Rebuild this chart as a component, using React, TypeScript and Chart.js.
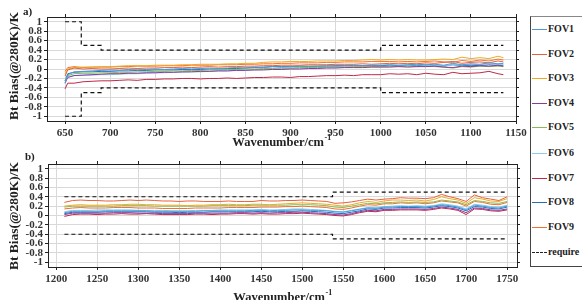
import React, { useEffect, useRef } from "react";
import { Chart, registerables } from "chart.js";
Chart.register(...registerables);

const FONT = "'Liberation Serif', 'Times New Roman', serif";

const fovNames = ["FOV1", "FOV2", "FOV3", "FOV4", "FOV5", "FOV6", "FOV7", "FOV8", "FOV9"];
const fovColors = ["#4a9ad6", "#e8603a", "#eeaa22", "#8b3a9b", "#88bb55", "#88ccee", "#c02848", "#1f6fbf", "#f07030"];
const requireLabel = "require";

const xTicksA = [650, 700, 750, 800, 850, 900, 950, 1000, 1050, 1100, 1150];
const xTicksB = [1200, 1250, 1300, 1350, 1400, 1450, 1500, 1550, 1600, 1650, 1700, 1750];
const yTicks = [-1, -0.8, -0.6, -0.4, -0.2, 0, 0.2, 0.4, 0.6, 0.8, 1];

// ---------- panel a) ----------
const wnA = [650, 653, 660, 670, 680, 690, 700, 710, 720, 730,
  740, 750, 760, 770, 780, 790, 800, 810, 820, 830,
  840, 850, 860, 870, 880, 890, 900, 910, 920, 930,
  940, 950, 960, 970, 980, 990, 1000, 1010, 1020, 1030,
  1040, 1050, 1060, 1070, 1080, 1090, 1100, 1110, 1120, 1130,
  1136];
const fov1A = [-0.30, -0.12, -0.06, -0.05, -0.04, -0.03, -0.02, -0.03, -0.01, -0.02,
  -0.01, 0.00, -0.01, 0.00, 0.01, 0.00, 0.01, 0.02, 0.01, 0.02,
  0.03, 0.02, 0.04, 0.03, 0.05, 0.04, 0.05, 0.06, 0.05, 0.06,
  0.07, 0.06, 0.07, 0.08, 0.07, 0.08, 0.08, 0.09, 0.08, 0.09,
  0.10, 0.09, 0.10, 0.08, 0.12, 0.09, 0.11, 0.10, 0.13, 0.11,
  0.12];
const fov2A = [-0.15, -0.02, 0.02, 0.00, 0.01, 0.00, 0.00, 0.01, 0.02, 0.01,
  0.02, 0.02, 0.03, 0.03, 0.04, 0.03, 0.04, 0.05, 0.04, 0.05,
  0.05, 0.06, 0.06, 0.07, 0.07, 0.08, 0.08, 0.08, 0.09, 0.09,
  0.09, 0.10, 0.10, 0.10, 0.11, 0.10, 0.11, 0.12, 0.11, 0.12,
  0.11, 0.13, 0.12, 0.14, 0.16, 0.12, 0.14, 0.15, 0.13, 0.17,
  0.15];
const fov3A = [-0.10, 0.00, 0.03, 0.04, 0.04, 0.05, 0.05, 0.06, 0.07, 0.07,
  0.07, 0.08, 0.08, 0.08, 0.09, 0.09, 0.10, 0.10, 0.10, 0.11,
  0.11, 0.12, 0.12, 0.14, 0.15, 0.15, 0.16, 0.16, 0.16, 0.17,
  0.17, 0.17, 0.18, 0.18, 0.19, 0.20, 0.19, 0.20, 0.19, 0.20,
  0.19, 0.19, 0.20, 0.21, 0.20, 0.25, 0.22, 0.24, 0.22, 0.27,
  0.24];
const fov4A = [-0.30, -0.18, -0.14, -0.13, -0.12, -0.11, -0.10, -0.10, -0.09, -0.09,
  -0.08, -0.08, -0.07, -0.07, -0.06, -0.06, -0.05, -0.05, -0.04, -0.04,
  -0.03, -0.03, -0.02, -0.02, -0.01, -0.01, 0.00, 0.00, 0.01, 0.01,
  0.02, 0.02, 0.03, 0.03, 0.03, 0.04, 0.04, 0.04, 0.05, 0.04,
  0.05, 0.05, 0.06, 0.04, 0.03, 0.06, 0.05, 0.07, 0.06, 0.08,
  0.06];
const fov5A = [-0.25, -0.14, -0.10, -0.09, -0.09, -0.08, -0.08, -0.07, -0.07, -0.06,
  -0.06, -0.05, -0.05, -0.04, -0.04, -0.03, -0.03, -0.02, -0.02, -0.01,
  -0.01, 0.00, 0.00, 0.01, 0.01, 0.02, 0.02, 0.03, 0.03, 0.03,
  0.04, 0.04, 0.04, 0.05, 0.05, 0.05, 0.05, 0.06, 0.05, 0.06,
  0.05, 0.06, 0.05, 0.04, 0.02, 0.05, 0.04, 0.06, 0.05, 0.06,
  0.05];
const fov6A = [-0.20, -0.16, -0.14, -0.13, -0.13, -0.12, -0.12, -0.11, -0.10, -0.10,
  -0.09, -0.08, -0.08, -0.07, -0.07, -0.06, -0.06, -0.05, -0.04, -0.04,
  -0.03, -0.02, -0.02, -0.01, 0.00, 0.01, 0.02, 0.02, 0.03, 0.03,
  0.04, 0.04, 0.04, 0.05, 0.05, 0.05, 0.05, 0.06, 0.06, 0.07,
  0.06, 0.07, 0.08, 0.06, 0.09, 0.08, 0.10, 0.09, 0.11, 0.10,
  0.10];
const fov7A = [-0.42, -0.30, -0.30, -0.27, -0.26, -0.25, -0.25, -0.24, -0.23, -0.24,
  -0.22, -0.22, -0.21, -0.21, -0.20, -0.20, -0.21, -0.20, -0.20, -0.19,
  -0.20, -0.19, -0.18, -0.18, -0.17, -0.17, -0.18, -0.16, -0.16, -0.15,
  -0.14, -0.14, -0.13, -0.14, -0.12, -0.12, -0.12, -0.10, -0.11, -0.10,
  -0.12, -0.09, -0.11, -0.12, -0.07, -0.10, -0.09, -0.08, -0.05, -0.10,
  -0.12];
const fov8A = [-0.25, -0.10, -0.07, -0.06, -0.06, -0.05, -0.05, -0.04, -0.04, -0.03,
  -0.03, -0.02, -0.02, -0.02, -0.01, -0.01, -0.01, 0.00, 0.00, 0.01,
  0.01, 0.02, 0.03, 0.04, 0.05, 0.05, 0.05, 0.06, 0.06, 0.06,
  0.06, 0.07, 0.07, 0.07, 0.07, 0.07, 0.07, 0.08, 0.07, 0.08,
  0.07, 0.08, 0.07, 0.06, 0.09, 0.07, 0.08, 0.07, 0.09, 0.08,
  0.08];
const fov9A = [-0.05, 0.03, 0.05, 0.03, 0.04, 0.04, 0.04, 0.05, 0.05, 0.06,
  0.06, 0.06, 0.07, 0.07, 0.07, 0.08, 0.08, 0.08, 0.09, 0.09,
  0.09, 0.10, 0.10, 0.11, 0.11, 0.12, 0.12, 0.13, 0.13, 0.13,
  0.14, 0.14, 0.15, 0.15, 0.15, 0.16, 0.16, 0.16, 0.15, 0.16,
  0.15, 0.16, 0.17, 0.15, 0.14, 0.18, 0.16, 0.19, 0.17, 0.21,
  0.19];
const reqAx = [650, 668, 668, 690, 690, 1000, 1000, 1136];
const reqAUp = [1, 1, 0.5, 0.5, 0.4, 0.4, 0.5, 0.5];
const reqALo = [-1, -1, -0.5, -0.5, -0.4, -0.4, -0.5, -0.5];

// ---------- panel b) ----------
const wnB = [1210, 1220, 1230, 1240, 1250, 1260, 1270, 1280, 1290, 1300,
  1310, 1320, 1330, 1340, 1350, 1360, 1370, 1380, 1390, 1400,
  1410, 1420, 1430, 1440, 1450, 1460, 1470, 1480, 1490, 1500,
  1510, 1520, 1530, 1540, 1550, 1560, 1570, 1580, 1590, 1600,
  1610, 1620, 1630, 1640, 1650, 1660, 1670, 1680, 1690, 1700,
  1710, 1720, 1730, 1740, 1750];
const fov1B = [0.06, 0.09, 0.09, 0.09, 0.09, 0.10, 0.10, 0.10, 0.10, 0.10,
  0.10, 0.09, 0.09, 0.09, 0.09, 0.09, 0.09, 0.10, 0.10, 0.10,
  0.10, 0.10, 0.10, 0.11, 0.11, 0.10, 0.11, 0.11, 0.12, 0.12,
  0.11, 0.11, 0.10, 0.08, 0.07, 0.10, 0.13, 0.16, 0.15, 0.18,
  0.18, 0.19, 0.19, 0.19, 0.18, 0.20, 0.23, 0.21, 0.18, 0.12,
  0.22, 0.20, 0.17, 0.16, 0.20];
const fov2B = [0.28, 0.32, 0.33, 0.32, 0.32, 0.31, 0.31, 0.32, 0.33, 0.32,
  0.33, 0.32, 0.31, 0.31, 0.30, 0.31, 0.31, 0.30, 0.30, 0.30,
  0.31, 0.30, 0.30, 0.30, 0.32, 0.31, 0.31, 0.32, 0.32, 0.33,
  0.32, 0.31, 0.30, 0.26, 0.27, 0.29, 0.32, 0.35, 0.33, 0.35,
  0.36, 0.38, 0.37, 0.37, 0.36, 0.38, 0.45, 0.40, 0.36, 0.30,
  0.44, 0.38, 0.35, 0.32, 0.40];
const fov3B = [0.20, 0.22, 0.23, 0.22, 0.22, 0.22, 0.23, 0.23, 0.24, 0.24,
  0.23, 0.23, 0.22, 0.22, 0.22, 0.21, 0.22, 0.22, 0.23, 0.23,
  0.24, 0.23, 0.23, 0.24, 0.24, 0.23, 0.24, 0.25, 0.26, 0.27,
  0.26, 0.25, 0.24, 0.22, 0.20, 0.23, 0.27, 0.30, 0.28, 0.31,
  0.33, 0.33, 0.32, 0.33, 0.31, 0.34, 0.40, 0.36, 0.33, 0.26,
  0.38, 0.35, 0.31, 0.30, 0.36];
const fov4B = [0.02, 0.05, 0.05, 0.05, 0.05, 0.05, 0.06, 0.06, 0.06, 0.05,
  0.05, 0.05, 0.04, 0.04, 0.04, 0.04, 0.05, 0.05, 0.05, 0.05,
  0.05, 0.06, 0.06, 0.05, 0.06, 0.05, 0.06, 0.06, 0.07, 0.07,
  0.06, 0.05, 0.04, 0.02, 0.01, 0.04, 0.08, 0.11, 0.10, 0.13,
  0.13, 0.14, 0.14, 0.14, 0.13, 0.15, 0.18, 0.16, 0.13, 0.06,
  0.16, 0.15, 0.12, 0.11, 0.14];
const fov5B = [0.18, 0.20, 0.20, 0.20, 0.20, 0.20, 0.20, 0.21, 0.21, 0.21,
  0.21, 0.20, 0.20, 0.20, 0.20, 0.20, 0.20, 0.20, 0.21, 0.21,
  0.21, 0.21, 0.21, 0.22, 0.22, 0.22, 0.22, 0.22, 0.23, 0.23,
  0.23, 0.22, 0.21, 0.18, 0.17, 0.20, 0.23, 0.26, 0.25, 0.27,
  0.28, 0.29, 0.28, 0.29, 0.28, 0.29, 0.33, 0.31, 0.29, 0.23,
  0.32, 0.30, 0.27, 0.26, 0.30];
const fov6B = [0.08, 0.11, 0.11, 0.11, 0.12, 0.12, 0.12, 0.12, 0.12, 0.11,
  0.11, 0.11, 0.11, 0.10, 0.10, 0.10, 0.11, 0.11, 0.11, 0.12,
  0.12, 0.12, 0.12, 0.12, 0.13, 0.12, 0.12, 0.13, 0.14, 0.14,
  0.13, 0.12, 0.11, 0.09, 0.08, 0.11, 0.14, 0.17, 0.17, 0.19,
  0.20, 0.21, 0.20, 0.21, 0.20, 0.21, 0.25, 0.23, 0.20, 0.14,
  0.24, 0.22, 0.19, 0.18, 0.22];
const fov7B = [-0.02, 0.02, 0.03, 0.03, 0.02, 0.03, 0.03, 0.04, 0.03, 0.03,
  0.04, 0.03, 0.02, 0.02, 0.02, 0.02, 0.03, 0.03, 0.02, 0.03,
  0.03, 0.04, 0.04, 0.03, 0.04, 0.03, 0.03, 0.04, 0.04, 0.05,
  0.04, 0.03, 0.02, 0.00, -0.01, 0.02, 0.06, 0.09, 0.08, 0.11,
  0.11, 0.12, 0.12, 0.12, 0.11, 0.13, 0.16, 0.14, 0.11, 0.02,
  0.14, 0.13, 0.10, 0.09, 0.12];
const fov8B = [0.04, 0.07, 0.07, 0.07, 0.07, 0.08, 0.08, 0.08, 0.08, 0.08,
  0.08, 0.07, 0.07, 0.07, 0.06, 0.07, 0.07, 0.07, 0.08, 0.08,
  0.08, 0.08, 0.08, 0.08, 0.09, 0.08, 0.08, 0.09, 0.09, 0.10,
  0.09, 0.08, 0.07, 0.05, 0.04, 0.07, 0.10, 0.14, 0.13, 0.16,
  0.16, 0.17, 0.17, 0.17, 0.16, 0.18, 0.21, 0.19, 0.16, 0.10,
  0.19, 0.18, 0.15, 0.14, 0.18];
const fov9B = [0.14, 0.16, 0.17, 0.16, 0.16, 0.16, 0.17, 0.17, 0.17, 0.16,
  0.16, 0.16, 0.15, 0.15, 0.15, 0.15, 0.16, 0.16, 0.16, 0.16,
  0.17, 0.17, 0.17, 0.17, 0.18, 0.18, 0.18, 0.19, 0.19, 0.20,
  0.19, 0.18, 0.17, 0.14, 0.13, 0.16, 0.20, 0.23, 0.22, 0.25,
  0.25, 0.27, 0.26, 0.27, 0.25, 0.27, 0.31, 0.29, 0.27, 0.20,
  0.30, 0.28, 0.24, 0.23, 0.28];
const reqBx = [1210, 1537, 1537, 1750];
const reqBUp = [0.4, 0.4, 0.5, 0.5];
const reqBLo = [-0.4, -0.4, -0.5, -0.5];

const seriesA = [fov1A, fov2A, fov3A, fov4A, fov5A, fov6A, fov7A, fov8A, fov9A];
const seriesB = [fov1B, fov2B, fov3B, fov4B, fov5B, fov6B, fov7B, fov8B, fov9B];

const W = 530;
const H = 150;

type PanelCfg = {
  xs: number[];
  series: number[][];
  reqX: number[];
  reqUp: number[];
  reqLo: number[];
  xmin: number;
  xmax: number;
  xticks: number[];
  area: { left: number; right: number; top: number; bottom: number };
  label: string;
  labelX: number;
  labelY: number;
  yTitleY: number;
  xTitleBase: number;
};

function pts(xs: number[], ys: number[]) {
  return xs.map((x, i) => ({ x, y: ys[i] }));
}

function buildChart(canvas: HTMLCanvasElement, p: PanelCfg) {
  const datasets: any[] = p.series.map((s, i) => ({
    label: fovNames[i],
    data: pts(p.xs, s),
    borderColor: fovColors[i],
    borderWidth: 1,
    pointRadius: 0,
    tension: 0,
    fill: false,
  }));
  [p.reqUp, p.reqLo].forEach((r) =>
    datasets.push({
      label: requireLabel,
      data: pts(p.reqX, r),
      borderColor: "#111",
      borderWidth: 1.2,
      borderDash: [4, 3],
      pointRadius: 0,
      tension: 0,
      fill: false,
    })
  );
  const gridCommon = {
    color: "#d9d9d9",
    lineWidth: 1,
    tickColor: "#222",
    tickLength: 3,
  };
  const tickFont = { family: FONT, size: 11, weight: "bold" as const };
  const setTicks = (vals: number[]) => (s: any) => {
    s.ticks = vals.map((v) => ({ value: v }));
  };
  const textPlugin = {
    id: "panelTexts",
    afterDraw(chart: any) {
      const ctx = chart.ctx as CanvasRenderingContext2D;
      const a = chart.chartArea;
      ctx.save();
      ctx.fillStyle = "#222";
      // y title
      ctx.save();
      ctx.font = `bold 13.5px ${FONT}`;
      ctx.textAlign = "center";
      ctx.textBaseline = "middle";
      ctx.translate(15, p.yTitleY);
      ctx.rotate(-Math.PI / 2);
      ctx.fillText("Bt Bias(@280K)/K", 0, 0);
      ctx.restore();
      // x title with superscript
      const main = "Wavenumber/cm";
      const sup = "-1";
      ctx.font = `bold 12.5px ${FONT}`;
      const w1 = ctx.measureText(main).width;
      ctx.font = `bold 8px ${FONT}`;
      const w2 = ctx.measureText(sup).width;
      const x0 = (a.left + a.right) / 2 - (w1 + w2) / 2;
      ctx.textAlign = "left";
      ctx.textBaseline = "alphabetic";
      ctx.font = `bold 12.5px ${FONT}`;
      ctx.fillText(main, x0, p.xTitleBase);
      ctx.font = `bold 8px ${FONT}`;
      ctx.fillText(sup, x0 + w1 + 0.5, p.xTitleBase - 6);
      // panel label
      ctx.font = `bold 11px ${FONT}`;
      ctx.textBaseline = "middle";
      ctx.fillText(p.label, p.labelX, p.labelY);
      ctx.restore();
    },
  };
  return new Chart(canvas, {
    type: "line",
    data: { datasets },
    plugins: [textPlugin],
    options: {
      responsive: false,
      animation: false,
      events: [],
      layout: { padding: 0, autoPadding: false } as any,
      plugins: { legend: { display: false }, tooltip: { enabled: false } },
      scales: {
        x: {
          type: "linear",
          position: "bottom",
          min: p.xmin,
          max: p.xmax,
          afterBuildTicks: setTicks(p.xticks),
          afterFit: (s: any) => {
            s.height = H - p.area.bottom;
          },
          ticks: {
            font: tickFont,
            color: "#333",
            padding: 3,
            maxRotation: 0,
            autoSkip: false,
            callback: (v: any) => String(v),
          },
          grid: { ...gridCommon, drawOnChartArea: true },
          border: { display: true, color: "#222", width: 1 },
        },
        x2: {
          type: "linear",
          position: "top",
          min: p.xmin,
          max: p.xmax,
          afterBuildTicks: setTicks(p.xticks),
          afterFit: (s: any) => {
            s.height = p.area.top;
          },
          ticks: { display: false },
          grid: { ...gridCommon, drawOnChartArea: false },
          border: { display: true, color: "#222", width: 1 },
        },
        y: {
          type: "linear",
          position: "left",
          min: -1.1,
          max: 1.1,
          afterBuildTicks: setTicks(yTicks),
          afterFit: (s: any) => {
            s.width = p.area.left;
          },
          ticks: {
            font: tickFont,
            color: "#333",
            padding: 2,
            autoSkip: false,
            callback: (v: any) => String(Number(Number(v).toFixed(1))),
          },
          grid: { ...gridCommon, drawOnChartArea: true },
          border: { display: true, color: "#222", width: 1 },
        },
        y2: {
          type: "linear",
          position: "right",
          min: -1.1,
          max: 1.1,
          afterBuildTicks: setTicks(yTicks),
          afterFit: (s: any) => {
            s.width = W - p.area.right;
          },
          ticks: { display: false },
          grid: { ...gridCommon, drawOnChartArea: false },
          border: { display: true, color: "#222", width: 1 },
        },
      },
    } as any,
  });
}

const panelA: PanelCfg = {
  xs: wnA,
  series: seriesA,
  reqX: reqAx,
  reqUp: reqAUp,
  reqLo: reqALo,
  xmin: 630,
  xmax: 1150,
  xticks: xTicksA,
  area: { left: 47, right: 516, top: 17, bottom: 121 },
  label: "a)",
  labelX: 23,
  labelY: 12,
  yTitleY: 66,
  xTitleBase: 146,
};

const panelB: PanelCfg = {
  xs: wnB,
  series: seriesB,
  reqX: reqBx,
  reqUp: reqBUp,
  reqLo: reqBLo,
  xmin: 1190,
  xmax: 1762,
  xticks: xTicksB,
  area: { left: 48, right: 517, top: 14, bottom: 117 },
  label: "b)",
  labelX: 25,
  labelY: 7,
  yTitleY: 66,
  xTitleBase: 151,
};

const legendRows = [30, 55, 79, 104, 128, 154, 179, 203, 228, 253];

export default function App() {
  const refA = useRef<HTMLCanvasElement>(null);
  const refB = useRef<HTMLCanvasElement>(null);
  useEffect(() => {
    const ca = buildChart(refA.current!, panelA);
    const cb = buildChart(refB.current!, panelB);
    return () => {
      ca.destroy();
      cb.destroy();
    };
  }, []);
  const entries = [...fovNames.map((n, i) => ({ n, c: fovColors[i], dash: false })), { n: requireLabel, c: "#222", dash: true }];
  return (
    <div style={{ position: "absolute", left: 0, top: 0, width: 582, height: 300, overflow: "hidden", background: "#fff" }}>
      <canvas ref={refA} width={W} height={H} style={{ position: "absolute", left: 0, top: 0, width: W, height: H }} />
      <canvas ref={refB} width={W} height={H} style={{ position: "absolute", left: 0, top: 150, width: W, height: H }} />
      <div
        style={{
          position: "absolute",
          left: 530,
          top: 16,
          width: 70,
          height: 251,
          border: "1px solid #444",
          borderTopColor: "#888",
          boxSizing: "border-box",
          background: "#fff",
        }}
      />
      {entries.map((e, i) => (
        <React.Fragment key={e.n}>
          <div
            style={{
              position: "absolute",
              left: 532,
              top: legendRows[i] - 1,
              width: 15,
              height: 0,
              borderTop: e.dash ? `1.5px dashed ${e.c}` : `1.5px solid ${e.c}`,
            }}
          />
          <div
            style={{
              position: "absolute",
              left: 548,
              top: legendRows[i] - 7,
              height: 14,
              lineHeight: "14px",
              font: `bold 10px ${FONT}`,
              color: "#222",
              whiteSpace: "nowrap",
            }}
          >
            {e.n}
          </div>
        </React.Fragment>
      ))}
    </div>
  );
}
